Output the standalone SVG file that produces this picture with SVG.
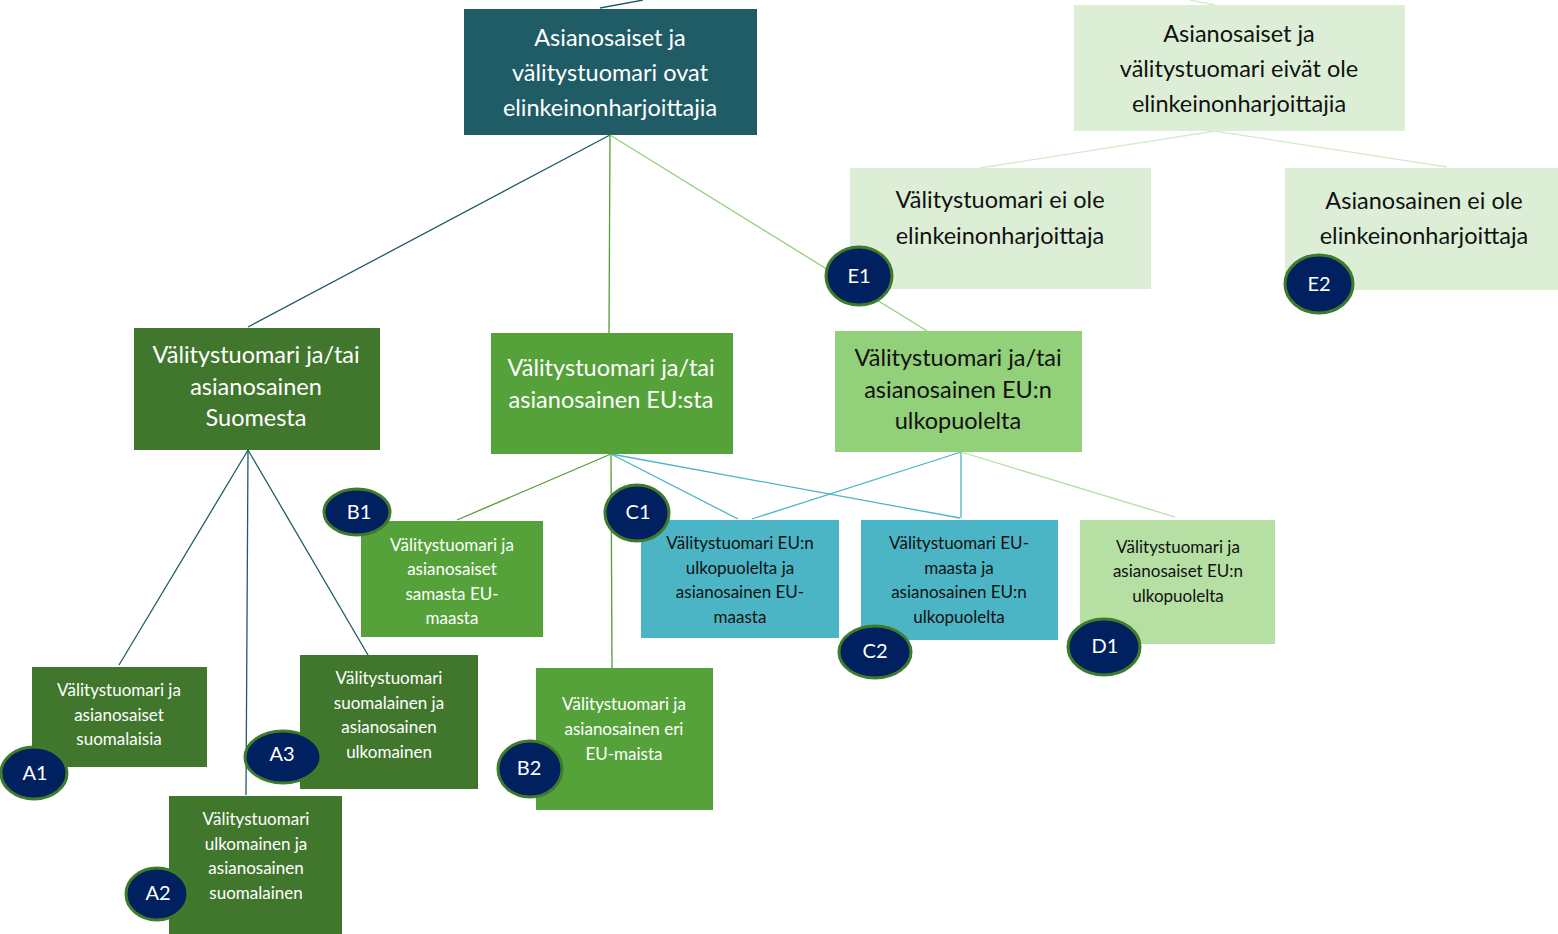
<svg xmlns="http://www.w3.org/2000/svg" width="1558" height="934" viewBox="0 0 1558 934">
<style>
text{font-family:Lato,"Liberation Sans",sans-serif;text-anchor:middle}
.big{font-size:23.5px}
.sm{font-size:17px}
.w{fill:#ffffff}
.k{fill:#111111}
.lab{font-size:20px;fill:#ffffff}
.c{fill:#002060;stroke:#3E7B2B;stroke-width:3}
.ln{fill:none;stroke-width:1.3}
</style>
<rect width="1558" height="934" fill="#ffffff"/>
<g id="connectors">
<line class="ln" x1="600" y1="8" x2="643" y2="0" stroke="#1F5C66"/>
<line class="ln" x1="1190" y1="0" x2="1215" y2="5" stroke="#D5EBCC"/>
<line class="ln" x1="1215" y1="131" x2="980" y2="168" stroke="#D5EBCC"/>
<line class="ln" x1="1215" y1="131" x2="1447" y2="167" stroke="#D5EBCC"/>
<line class="ln" x1="610" y1="135" x2="248" y2="327" stroke="#1F5C66"/>
<line class="ln" x1="610" y1="135" x2="609" y2="333" stroke="#549E39"/>
<line class="ln" x1="610" y1="135" x2="927" y2="331" stroke="#92D07A"/>
<line class="ln" x1="248" y1="450" x2="119" y2="665" stroke="#1F5C66"/>
<line class="ln" x1="248" y1="450" x2="246" y2="795" stroke="#1F5C66"/>
<line class="ln" x1="248" y1="450" x2="375" y2="667" stroke="#1F5C66"/>
<line class="ln" x1="611" y1="454" x2="457" y2="520" stroke="#549E39"/>
<line class="ln" x1="611" y1="454" x2="612" y2="668" stroke="#549E39"/>
<line class="ln" x1="611" y1="454" x2="738" y2="519" stroke="#4BB5C5"/>
<line class="ln" x1="611" y1="454" x2="960" y2="518" stroke="#4BB5C5"/>
<line class="ln" x1="961" y1="452" x2="752" y2="519" stroke="#4BB5C5"/>
<line class="ln" x1="961" y1="452" x2="961" y2="518" stroke="#4BB5C5"/>
<line class="ln" x1="961" y1="452" x2="1175" y2="517" stroke="#B5DFA0"/>
</g>
<g id="root">
<rect x="464" y="9" width="293" height="126" fill="#1F5C66"/>
<text class="big w" x="610" y="46">Asianosaiset ja</text>
<text class="big w" x="610" y="81">välitystuomari ovat</text>
<text class="big w" x="610" y="116">elinkeinonharjoittajia</text>
</g>
<g id="root2">
<rect x="1074" y="5" width="331" height="126" fill="#DCEFD6"/>
<text class="big k" x="1239" y="42">Asianosaiset ja</text>
<text class="big k" x="1239" y="77">välitystuomari eivät ole</text>
<text class="big k" x="1239" y="112">elinkeinonharjoittajia</text>
</g>
<g id="e1node">
<rect x="850" y="168" width="301" height="121" fill="#DCEFD6"/>
<text class="big k" x="1000" y="208">Välitystuomari ei ole</text>
<text class="big k" x="1000" y="244">elinkeinonharjoittaja</text>
</g>
<g id="e2node">
<rect x="1285" y="168" width="273" height="122" fill="#DCEFD6"/>
<text class="big k" x="1424" y="209">Asianosainen ei ole</text>
<text class="big k" x="1424" y="244">elinkeinonharjoittaja</text>
</g>
<g id="suomesta">
<rect x="134" y="328" width="246" height="122" fill="#41772D"/>
<text class="big w" x="256" y="363">Välitystuomari ja/tai</text>
<text class="big w" x="256" y="395">asianosainen</text>
<text class="big w" x="256" y="426">Suomesta</text>
</g>
<g id="eusta">
<rect x="491" y="333" width="242" height="121" fill="#55A23A"/>
<text class="big w" x="611" y="376">Välitystuomari ja/tai</text>
<text class="big w" x="611" y="408">asianosainen EU:sta</text>
</g>
<g id="ulko">
<rect x="835" y="331" width="247" height="121" fill="#92D07A"/>
<text class="big k" x="958" y="366">Välitystuomari ja/tai</text>
<text class="big k" x="958" y="398">asianosainen EU:n</text>
<text class="big k" x="958" y="429">ulkopuolelta</text>
</g>
<g id="a1node">
<rect x="32" y="667" width="175" height="100" fill="#41772D"/>
<text class="sm w" x="119" y="696">Välitystuomari ja</text>
<text class="sm w" x="119" y="721">asianosaiset</text>
<text class="sm w" x="119" y="745">suomalaisia</text>
</g>
<g id="a3node">
<rect x="300" y="655" width="178" height="134" fill="#41772D"/>
<text class="sm w" x="389" y="684">Välitystuomari</text>
<text class="sm w" x="389" y="709">suomalainen ja</text>
<text class="sm w" x="389" y="733">asianosainen</text>
<text class="sm w" x="389" y="758">ulkomainen</text>
</g>
<g id="a2node">
<rect x="169" y="796" width="173" height="138" fill="#41772D"/>
<text class="sm w" x="256" y="825">Välitystuomari</text>
<text class="sm w" x="256" y="850">ulkomainen ja</text>
<text class="sm w" x="256" y="874">asianosainen</text>
<text class="sm w" x="256" y="899">suomalainen</text>
</g>
<g id="b1node">
<rect x="361" y="521" width="182" height="116" fill="#55A23A"/>
<text class="sm w" x="452" y="551">Välitystuomari ja</text>
<text class="sm w" x="452" y="575">asianosaiset</text>
<text class="sm w" x="452" y="600">samasta EU-</text>
<text class="sm w" x="452" y="624">maasta</text>
</g>
<g id="b2node">
<rect x="536" y="668" width="177" height="142" fill="#55A23A"/>
<text class="sm w" x="624" y="710">Välitystuomari ja</text>
<text class="sm w" x="624" y="735">asianosainen eri</text>
<text class="sm w" x="624" y="760">EU-maista</text>
</g>
<g id="c1node">
<rect x="641" y="520" width="198" height="118" fill="#4BB5C5"/>
<text class="sm k" x="740" y="549">Välitystuomari EU:n</text>
<text class="sm k" x="740" y="574">ulkopuolelta ja</text>
<text class="sm k" x="740" y="598">asianosainen EU-</text>
<text class="sm k" x="740" y="623">maasta</text>
</g>
<g id="c2node">
<rect x="861" y="520" width="197" height="120" fill="#4BB5C5"/>
<text class="sm k" x="959" y="549">Välitystuomari EU-</text>
<text class="sm k" x="959" y="574">maasta ja</text>
<text class="sm k" x="959" y="598">asianosainen EU:n</text>
<text class="sm k" x="959" y="623">ulkopuolelta</text>
</g>
<g id="d1node">
<rect x="1080" y="520" width="195" height="124" fill="#B5DFA3"/>
<text class="sm k" x="1178" y="553">Välitystuomari ja</text>
<text class="sm k" x="1178" y="577">asianosaiset EU:n</text>
<text class="sm k" x="1178" y="602">ulkopuolelta</text>
</g>
<g id="badges">
<g id="E1"><ellipse class="c" cx="859" cy="276" rx="33" ry="29"/><text class="lab" x="859" y="283">E1</text></g>
<g id="E2"><ellipse class="c" cx="1319" cy="284" rx="34" ry="29"/><text class="lab" x="1319" y="291">E2</text></g>
<g id="B1"><ellipse class="c" cx="357" cy="512" rx="33" ry="23"/><text class="lab" x="359" y="519">B1</text></g>
<g id="C1"><ellipse class="c" cx="637" cy="513" rx="32" ry="28"/><text class="lab" x="638" y="519">C1</text></g>
<g id="A1"><ellipse class="c" cx="34" cy="773" rx="33" ry="26"/><text class="lab" x="35" y="780">A1</text></g>
<g id="A3"><ellipse class="c" cx="283" cy="757" rx="38" ry="26"/><text class="lab" x="282" y="761">A3</text></g>
<g id="A2"><ellipse class="c" cx="157" cy="894" rx="31" ry="26"/><text class="lab" x="158" y="900">A2</text></g>
<g id="B2"><ellipse class="c" cx="530" cy="769" rx="32" ry="28"/><text class="lab" x="529" y="775">B2</text></g>
<g id="C2"><ellipse class="c" cx="875" cy="652" rx="36" ry="26"/><text class="lab" x="875" y="658">C2</text></g>
<g id="D1"><ellipse class="c" cx="1104" cy="647" rx="36" ry="28"/><text class="lab" x="1105" y="653">D1</text></g>
</g>
</svg>
